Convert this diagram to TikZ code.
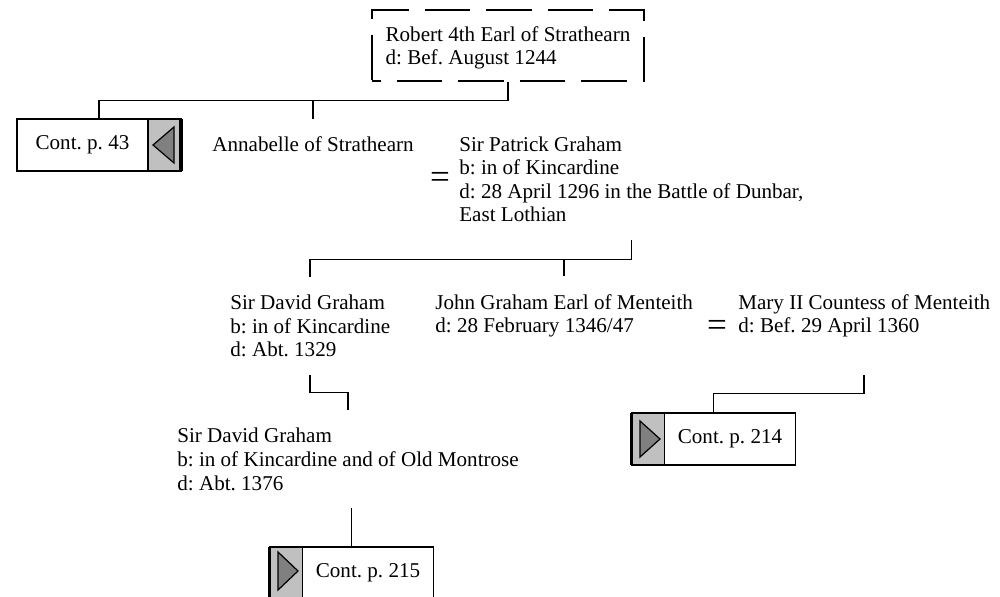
\documentclass[tikz,border=0pt]{standalone}
\usepackage{fontspec}
\setmainfont{Liberation Serif}
\usetikzlibrary{positioning,calc}
\definecolor{tabgray}{HTML}{C0C0C0}
\definecolor{trigray}{HTML}{808080}
\newlength\upx
\setlength\upx{0.02cm}
\frenchspacing

\begin{document}
\begin{tikzpicture}[x=0.02cm, y=-0.02cm, font=\fontsize{12}{13.4}\selectfont,
    link/.style={line width=0.95pt},
    person/.style={align=left, anchor=base west, inner xsep=0pt, inner ysep=18\upx, text depth=0pt},
    cont box/.style={draw, line width=0.7pt, outer sep=0pt, inner sep=0pt, minimum width=131\upx, minimum height=52\upx},
    tab box/.style={draw, fill=tabgray, line width=0.7pt, outer sep=0pt, inner sep=0pt, minimum width=33\upx, minimum height=52\upx},
    tri/.style={draw, fill=trigray, line width=0.7pt},
    wed/.style={font=\fontsize{20}{20}\selectfont, inner sep=0pt}]

  \useasboundingbox (0,0) rectangle (1000,597);

  % Capostipite
  \node[draw, line width=0.6pt, dash pattern=on 26pt off 9pt, dash phase=21pt, align=left, text depth=0pt,
        minimum width=272\upx, minimum height=71\upx] (robert) at (508,45.5)
        {Robert 4th Earl of Strathearn\\d: Bef. August 1244};

  % Rinvio a sinistra
  \node[cont box] (c43) at (82.5,145) {Cont. p. 43};
  \node[tab box, right=0pt of c43] (c43tab) {};
  \draw[tri] ($(c43tab.center)+(-11.5,0)$) -- ($(c43tab.center)+(9.5,-18)$) -- ($(c43tab.center)+(9.5,18)$) -- cycle;
  \draw[line width=1.8pt] (c43tab.north east) -- (c43tab.south east);
  \coordinate (c43top) at ($(c43.north west)!.5!(c43tab.north east)$);

  % Prima generazione
  \node[person] (annabelle) at (212,152) {Annabelle of Strathearn};
  \node[wed] (m1) at (440,180) {=};
  \node[person] (patrick) at (459,222) {Sir Patrick Graham\\b: in of Kincardine\\d: 28 April 1296 in the Battle of Dunbar,\\East Lothian};

  % Seconda generazione
  \node[person] (david1) at (230,357) {Sir David Graham\\b: in of Kincardine\\d: Abt. 1329};
  \node[person] (john) at (435,333) {John Graham Earl of Menteith\\d: 28 February 1346/47};
  \node[wed] (m2) at (717,328) {=};
  \node[person] (mary) at (738,333) {Mary II Countess of Menteith\\d: Bef. 29 April 1360};

  % Terza generazione
  \node[person] (david2) at (177,490) {Sir David Graham\\b: in of Kincardine and of Old Montrose\\d: Abt. 1376};

  % Rinvii a destra
  \node[tab box] (c214tab) at (648,439) {};
  \node[cont box, right=0pt of c214tab] (c214) {Cont. p. 214};
  \draw[tri] ($(c214tab.center)+(12,0)$) -- ($(c214tab.center)+(-8,-18)$) -- ($(c214tab.center)+(-8,18)$) -- cycle;
  \draw[line width=1.8pt] (c214tab.north west) -- (c214tab.south west);
  \coordinate (c214top) at ($(c214tab.north west)!.5!(c214.north east)$);

  \node[tab box] (c215tab) at (286,573) {};
  \node[cont box, right=0pt of c215tab] (c215) {Cont. p. 215};
  \draw[tri] ($(c215tab.center)+(12,-2)$) -- ($(c215tab.center)+(-8,-21)$) -- ($(c215tab.center)+(-8,17)$) -- cycle;
  \draw[line width=1.8pt] (c215tab.north west) -- (c215tab.south west);
  \coordinate (c215top) at ($(c215tab.north west)!.5!(c215.north east)$);

  % Collegamenti
  \draw[link] (robert.south) -- ++(0,19) coordinate (bar1) -| (c43top);
  \draw[link] (annabelle.north |- bar1) -- (annabelle.north);
  \draw[link] (patrick.south) -- ++(0,19) coordinate (bar2) -| (david1.north);
  \draw[link] (john.north |- bar2) -- (john.north);
  \draw[link] (david1.south) -- ++(0,17) -| (david2.north);
  \draw[link] (mary.south |- david1.south) -- ++(0,18) -| (c214top);
  \draw[link] (c215top |- david2.south) -- (c215top);

\end{tikzpicture}
\end{document}
